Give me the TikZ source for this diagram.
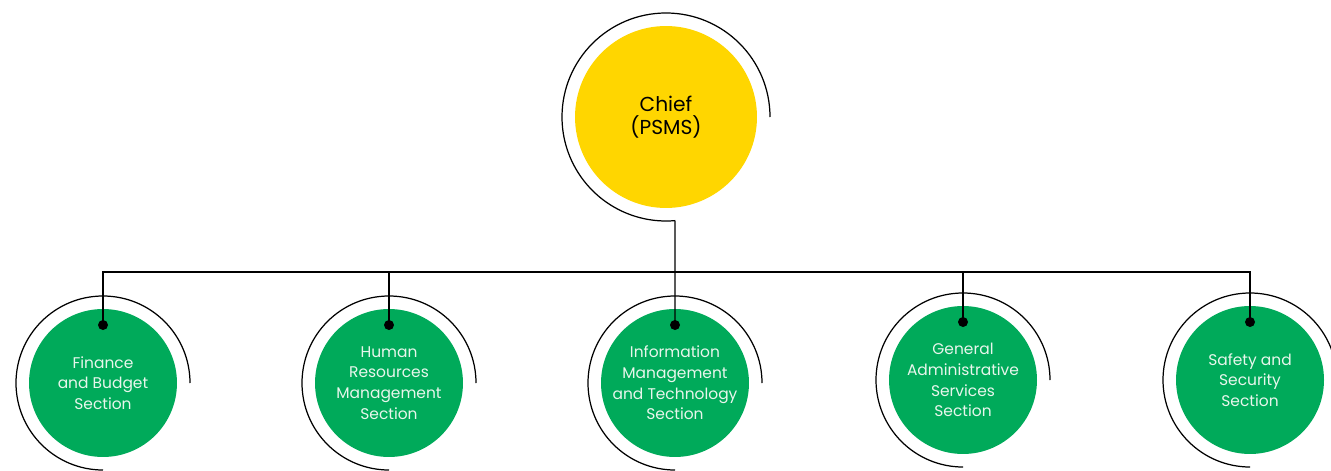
\documentclass[tikz,border=0pt]{standalone}
\usepackage{fontspec}
\setmainfont{Poppins}
\usetikzlibrary{positioning}
\definecolor{chiefyellow}{RGB}{255,214,0}
\definecolor{secgreen}{RGB}{0,170,90}
\definecolor{sectext}{RGB}{232,246,236}

\begin{document}
\begin{tikzpicture}[x=0.02cm,y=0.02cm,
      every node/.style={align=center},
      chiefbox/.style={circle,fill=chiefyellow,minimum size=3.64cm,inner sep=0pt,font=\fontsize{11.5}{13}\selectfont},
      secbox/.style={circle,fill=secgreen,minimum size=2.96cm,inner sep=0pt,text=sectext,font=\fontsize{8.8}{11.8}\selectfont},
      ring/.style={line width=0.7pt},
      link/.style={line width=0.7pt},
      dotmark/.style={circle,fill=black,minimum size=0.2cm,inner sep=0pt}]
      \useasboundingbox (0,0) rectangle (1331,-470);
      \node[chiefbox] (chief) at (666,-117) {Chief\\(PSMS)};
      \node[secbox] (fin) at (103,-383) {Finance\\and Budget\\Section};
      \node[secbox] (hr) at (389,-383) {Human\\Resources\\Management\\Section};
      \node[secbox] (imt) at (675,-383) {Information\\Management\\and Technology\\Section};
      \node[secbox] (gas) at (963,-380) {General\\Administrative\\Services\\Section};
      \node[secbox] (sss) at (1250,-380) {Safety and\\Security\\Section};
      \draw[ring] (chief.center) ++(0:104) arc[start angle=0,end angle=275,radius=104] coordinate (chiefend);
      \foreach \n in {fin,hr,imt,gas,sss}
        \draw[ring] (\n.center) ++(0:87) arc[start angle=0,end angle=270,radius=87];
      \foreach \n in {fin,hr,imt,gas,sss}
        \node[dotmark] (\n-dot) at ([yshift=1.16cm]\n.center) {};
      \coordinate (bus) at (0,-272);
      \draw[link] (fin-dot.center) -- (fin-dot |- bus) -- (sss-dot |- bus) -- (sss-dot.center);
      \draw[link] (hr-dot.center) -- (hr-dot |- bus);
      \draw[link] (gas-dot.center) -- (gas-dot |- bus);
      \draw[link] (chiefend) -- (imt-dot.center);
    \end{tikzpicture}
\end{document}
